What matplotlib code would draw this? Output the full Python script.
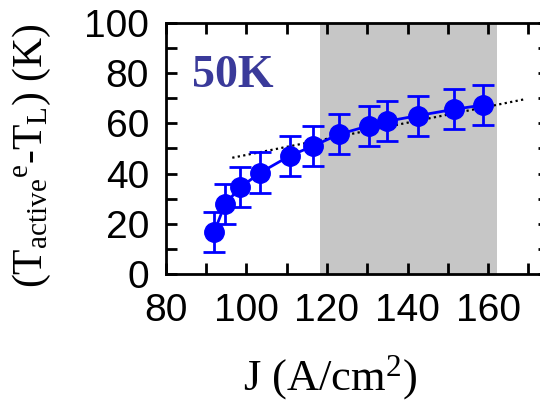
import numpy as np
import matplotlib
matplotlib.use('Agg')
import matplotlib.pyplot as plt
from matplotlib.ticker import FixedLocator, FuncFormatter

plt.rcParams['font.family'] = ['Liberation Sans', 'DejaVu Sans']
plt.rcParams['mathtext.fontset'] = 'custom'
plt.rcParams['mathtext.rm'] = 'Liberation Serif'
plt.rcParams['mathtext.it'] = 'Liberation Serif:italic'

# data
J = [92.0, 94.7, 98.5, 103.5, 110.8, 116.6, 122.9, 130.5, 134.8, 142.6, 151.5, 158.7]
dT = [16.6, 27.9, 34.5, 40.4, 47.1, 51.0, 55.6, 59.1, 60.8, 63.1, 65.6, 67.3]
dT_err = [8.0, 8.0, 8.0, 8.0, 8.0, 8.0, 8.0, 8.0, 8.0, 8.0, 8.0, 8.0]

fit_x = [96.5, 169.0]
fit_y = [46.3, 69.6]

shade_range = [118.2, 162.1]

x_ticks = [80, 90, 100, 110, 120, 130, 140, 150, 160, 170]
y_ticks = [0, 10, 20, 30, 40, 50, 60, 70, 80, 90, 100]

fig = plt.figure(figsize=(5.4, 4.04), dpi=100)
ax = fig.add_axes([0.307, 0.322, 0.709, 0.621])

ax.axvspan(shade_range[0], shade_range[1], facecolor='#c6c6c6', edgecolor='none', zorder=0)

ax.plot(fit_x, fit_y, color='black', linestyle=(0, (1, 1.5)), lw=1.6, zorder=2)
ax.errorbar(J, dT, yerr=dT_err, color='#0000ff', marker='o', markersize=14,
            lw=2, elinewidth=2, capsize=8, capthick=2, zorder=3)

ax.text(86.5, 79, '50K', color='#3a3a9a', fontsize=33, fontweight='bold',
        family='Liberation Serif', va='center', ha='left')

ax.set_xlim(80, 175)
ax.set_ylim(0, 100)

ax.xaxis.set_major_locator(FixedLocator(x_ticks))
ax.yaxis.set_major_locator(FixedLocator(y_ticks))
ax.xaxis.set_major_formatter(FuncFormatter(lambda v, p: '%d' % v if v % 20 == 0 and v <= 160 else ''))
ax.yaxis.set_major_formatter(FuncFormatter(lambda v, p: '%d' % v if v % 20 == 0 else ''))

ax.tick_params(direction='in', length=8, width=2, labelsize=28, top=True, right=True, pad=12)
ax.tick_params(axis='x', pad=14)
for s in ax.spines.values():
    s.set_linewidth(2)

ax.set_xlabel('J (A/cm$^{2}$)', family='Liberation Serif', fontsize=32)
ax.xaxis.set_label_coords(0.43, -0.315)
ax.set_ylabel('(T$_{\\mathrm{active}}$$^{\\mathrm{e}}$-T$_{\\mathrm{L}}$) (K)',
              family='Liberation Serif', fontsize=30)
ax.yaxis.set_label_coords(-0.295, 0.47)

fig.savefig('out.png', dpi=100)
